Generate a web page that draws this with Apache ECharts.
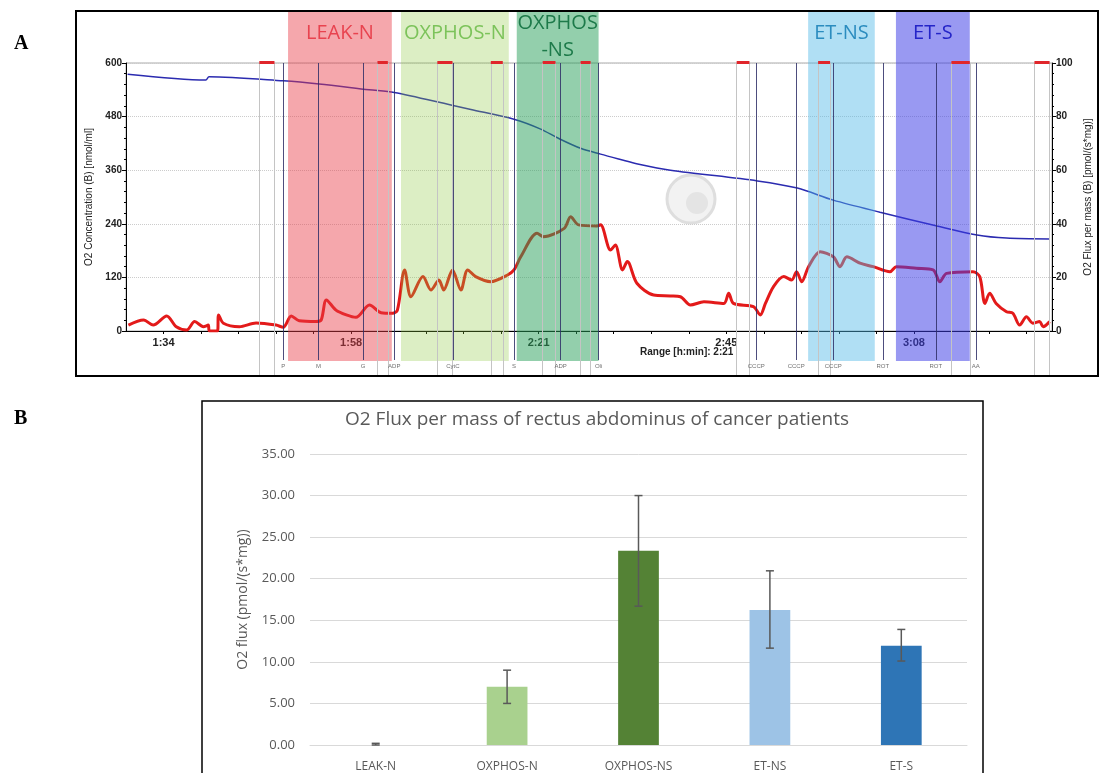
<!DOCTYPE html>
<html>
<head>
<meta charset="utf-8">
<title>O2 flux</title>
<script src="https://cdn.jsdelivr.net/npm/echarts@6/dist/echarts.min.js"></script>
<style>
    html, body { margin: 0; padding: 0; background: #fff; }
    #main { width: 1104px; height: 773px; }
</style>
</head>
<body>
<div id="main"></div>
<script>
// ---- panel A: trace, time in minutes ----
var o2Conc = [
    [89.5, 575], [99.3, 562], [99.7, 569], [109.0, 560], [113.5, 553], [119.75, 540],
    [122.9, 534], [130.0, 506], [132.5, 496], [137.9, 474], [141.25, 452], [143.4, 432],
    [146.25, 409], [148.75, 396], [151.25, 384], [153.4, 374], [157.5, 360], [168.4, 336],
    [173.4, 320], [177.9, 293], [183.75, 266], [190.9, 235], [195.9, 215], [199.6, 208],
    [205.0, 206]
];
var o2Flux = [
    [89.6, 2.2], [91.5, 4.1], [92.7, 2.2], [94.4, 5.6], [95.6, 1.6], [96.9, 0.4],
    [97.9, 3.5], [99.0, 1.6], [99.6, 2.2], [99.75, 0], [100.75, 0], [100.9, 6.0],
    [101.5, 2.9], [103.5, 1.6], [105.6, 3.0], [108.1, 2.2], [109.0, 1.4], [110.0, 5.6],
    [111.0, 3.8], [113.1, 3.5], [113.75, 4.1], [114.4, 11.6], [115.6, 7.8], [116.9, 6.0],
    [118.1, 5.1], [119.8, 9.7], [121.25, 6.8], [122.7, 6.6], [123.3, 7.8], [124.2, 22.8],
    [125.0, 12.8], [126.5, 20.3], [127.5, 15.3], [128.5, 19.0], [129.1, 15.3], [130.2, 22.8],
    [131.25, 15.3], [132.1, 22.8], [133.1, 20.3], [135.0, 18.4], [137.1, 20.9], [137.9, 22.8],
    [138.75, 27.7], [140.8, 36.5], [141.6, 35.2], [144.2, 38.3], [145.0, 42.6], [146.0, 39.6],
    [148.3, 39.2], [148.75, 39.6], [150.0, 30.2], [150.6, 32.1], [151.5, 22.8], [152.1, 25.9],
    [153.3, 17.8], [155.4, 13.4], [157.5, 13.1], [158.75, 12.8], [160.0, 9.7], [161.7, 10.9],
    [164.2, 10.3], [164.8, 14.1], [165.4, 10.3], [167.9, 9.1], [168.75, 6.0], [169.4, 10.3],
    [170.4, 16.5], [171.7, 20.3], [172.7, 19.0], [173.3, 22.1], [173.95, 18.4], [174.8, 24.0],
    [176.25, 29.6], [177.9, 27.7], [178.75, 24.0], [179.6, 27.7], [181.25, 25.3], [182.9, 24.0],
    [185.0, 22.1], [185.8, 24.0], [188.3, 23.4], [190.4, 22.8], [191.25, 18.4], [192.1, 21.5],
    [195.4, 22.1], [196.25, 20.3], [196.9, 10.3], [197.5, 14.1], [198.3, 10.3], [199.6, 7.2],
    [200.4, 6.6], [201.25, 2.2], [202.1, 5.3], [202.9, 2.9], [203.75, 3.5], [204.2, 1.6],
    [205.0, 3.5]
];
var phaseNames = ['LEAK-N', 'OXPHOS-N', 'OXPHOS\n-NS', 'ET-NS', 'ET-S'];
var phaseStart = [109.6, 123.75, 138.25, 174.75, 185.75];
var phaseEnd = [122.6, 137.25, 148.5, 183.1, 195.0];
var eventTimes = [109.0, 113.4, 119.0, 122.9, 130.25, 137.9, 143.75, 148.5, 168.25, 173.25, 177.9, 184.1, 190.75, 195.75];
var eventLabels = ['P', 'M', 'G', 'ADP', 'CytC', 'S', 'ADP', 'Oli', 'CCCP', 'CCCP', 'CCCP', 'ROT', 'ROT', 'AA'];
var markStart = [106.0, 120.8, 128.3, 135.0, 141.5, 146.25, 165.8, 176.0, 192.7, 203.1];
var markEnd = [107.9, 122.1, 130.2, 136.5, 143.1, 147.5, 167.4, 177.5, 195.0, 205.0];

// ---- panel B: summary bars ----
var categories = ['LEAK-N', 'OXPHOS-N', 'OXPHOS-NS', 'ET-NS', 'ET-S'];
var fluxMean = [0, 7.0, 23.35, 16.25, 11.95];
var fluxLow = [0.0, 5.0, 16.7, 11.65, 10.1];
var fluxHigh = [0.2, 9.0, 30.0, 20.95, 13.9];

// styles
var phaseFill = ['rgba(232,60,72,0.45)', 'rgba(140,200,60,0.3)', 'rgba(40,160,90,0.5)', 'rgba(80,185,230,0.45)', 'rgba(60,60,230,0.52)'];
var phaseText = ['#e8434f', '#7cc35a', '#1d7a4a', '#2b8cbf', '#2424c8'];
var barColors = ['#f4b183', '#a9d18e', '#548235', '#9dc3e6', '#2e75b6'];

// overlay grid: y counted in px from frame top
var OV_TOP = 12, OV_H = 365;
var PLOT_TOP = 63 - OV_TOP;

function timeLabel(v) {
    var r = (v - 94) / 23.5;
    if (Math.abs(r - Math.round(r)) > 0.01) return '';
    var m = Math.round(v);
    var mm = m % 60;
    return Math.floor(m / 60) + ':' + (mm < 10 ? '0' : '') + mm;
}

var bands = phaseNames.map(function(n, i) {
    return [{
        name: n,
        coord: [phaseStart[i], 0],
        itemStyle: { color: phaseFill[i] },
        label: { color: phaseText[i], offset: [0, n.indexOf('\n') >= 0 ? -10 : 0] }
    }, { coord: [phaseEnd[i], 349] }];
});
var eventLines = eventTimes.map(function(t, i) {
    return [{ name: eventLabels[i], coord: [t, PLOT_TOP] }, { coord: [t, 348] }];
});
var grayLines = [];
markStart.forEach(function(s, i) {
    grayLines.push([{ coord: [s, PLOT_TOP] }, { coord: [s, 364] }]);
    grayLines.push([{ coord: [markEnd[i], PLOT_TOP] }, { coord: [markEnd[i], 364] }]);
});
var redMarks = markStart.map(function(s, i) {
    return [{ coord: [s, PLOT_TOP - 0.5] }, { coord: [markEnd[i], PLOT_TOP - 0.5] }];
});

var axisFont = { fontFamily: 'Liberation Sans', fontWeight: 'bold', fontSize: 10, color: '#222' };
var gray = '#595959';

var myChart = echarts.init(document.getElementById('main'));
var option = {
    animation: false,
    backgroundColor: '#fff',
    title: {
        text: 'O2 Flux per mass of rectus abdominus of cancer patients',
        left: 592,
        textAlign: 'center',
        top: 405,
        textStyle: { fontFamily: 'Open Sans', fontWeight: 'normal', fontSize: 19, color: gray }
    },
    grid: [
        { left: 126, right: 52, top: 63, bottom: 442, show: true, borderColor: '#aaa', borderWidth: 1 },
        { left: 126, right: 52, top: OV_TOP, height: OV_H },
        { left: 310, right: 137, top: 454, bottom: 28 }
    ],
    xAxis: [{
        type: 'value', gridIndex: 0, min: 89.3, max: 205.3, interval: 4.7,
        axisLine: { lineStyle: { color: '#000', width: 1 } },
        axisTick: { length: 3, lineStyle: { color: '#000' } },
        splitLine: { show: false },
        axisLabel: Object.assign({}, axisFont, { formatter: timeLabel, margin: 6, fontSize: 11, showMinLabel: false, showMaxLabel: false })
    }, {
        type: 'value', gridIndex: 1, min: 89.3, max: 205.3, show: false
    }, {
        type: 'category', gridIndex: 2, data: categories,
        axisLine: { lineStyle: { color: '#d9d9d9', width: 1 } },
        axisTick: { show: false },
        axisLabel: { color: gray, fontFamily: 'Open Sans', fontSize: 12, margin: 16 }
    }],
    yAxis: [{
        type: 'value', gridIndex: 0, min: 0, max: 600, interval: 120,
        name: 'O2 Concentration (B) [nmol/ml]', nameLocation: 'middle', nameGap: 29,
        nameTextStyle: { fontFamily: 'Liberation Sans', fontSize: 10, color: '#222' },
        axisLine: { show: true, lineStyle: { color: '#000' } },
        axisTick: { show: true, length: 4, lineStyle: { color: '#000' } },
        minorTick: { show: true, splitNumber: 5, length: 2, lineStyle: { color: '#000' } },
        splitLine: { show: true, lineStyle: { color: '#ccc', type: 'dotted' } },
        axisLabel: Object.assign({ margin: 4 }, axisFont)
    }, {
        type: 'value', gridIndex: 0, position: 'right', min: 0, max: 100, interval: 20,
        name: 'O2 Flux per mass (B) [pmol/(s*mg)]', nameLocation: 'middle', nameGap: 29, nameRotate: 90,
        nameTextStyle: { fontFamily: 'Liberation Sans', fontSize: 10, color: '#222' },
        axisLine: { show: true, lineStyle: { color: '#000' } },
        axisTick: { show: true, length: 4, lineStyle: { color: '#000' } },
        minorTick: { show: true, splitNumber: 5, length: 2, lineStyle: { color: '#000' } },
        splitLine: { show: false },
        axisLabel: Object.assign({ margin: 4 }, axisFont)
    }, {
        type: 'value', gridIndex: 1, min: 0, max: OV_H, inverse: true, show: false
    }, {
        type: 'value', gridIndex: 2, min: 0, max: 35, interval: 5,
        name: 'O2 flux (pmol/(s*mg))', nameLocation: 'middle', nameGap: 60,
        nameTextStyle: { fontFamily: 'Open Sans', fontSize: 14, color: gray },
        axisLine: { show: false }, axisTick: { show: false },
        splitLine: { lineStyle: { color: '#d9d9d9', width: 1 } },
        axisLabel: { color: gray, fontFamily: 'Open Sans', fontSize: 13, margin: 15, formatter: function(v) { return v.toFixed(2); } }
    }],
    series: [{
        name: 'O2 Concentration', type: 'line', xAxisIndex: 0, yAxisIndex: 0, z: 2,
        data: o2Conc, showSymbol: false, smooth: 0.3,
        lineStyle: { color: '#2b2bb0', width: 1.5 }
    }, {
        name: 'O2 Flux', type: 'line', xAxisIndex: 0, yAxisIndex: 1, z: 2,
        data: o2Flux, showSymbol: false, smooth: 0.3,
        lineStyle: { color: '#e31a1a', width: 3 }
    }, {
        type: 'line', xAxisIndex: 1, yAxisIndex: 2, data: [], z: 3,
        markArea: {
            silent: true, z: 3,
            label: { show: true, position: 'insideTop', distance: 8, fontFamily: 'Open Sans', fontSize: 20, lineHeight: 27 },
            data: bands
        }
    }, {
        type: 'line', xAxisIndex: 1, yAxisIndex: 2, data: [],
        markLine: {
            silent: true, symbol: ['none', 'none'], z: 4,
            lineStyle: { color: '#c4c4c4', width: 1, type: 'solid' },
            label: { show: false },
            data: grayLines
        }
    }, {
        type: 'line', xAxisIndex: 1, yAxisIndex: 2, data: [],
        markLine: {
            silent: true, symbol: ['none', 'none'], z: 5,
            lineStyle: { color: '#2e2e66', width: 1, type: 'solid', opacity: 0.85 },
            label: { show: true, position: 'end', formatter: '{b}', fontSize: 6, color: '#555', fontFamily: 'Liberation Sans', distance: 3 },
            data: eventLines
        }
    }, {
        type: 'line', xAxisIndex: 1, yAxisIndex: 2, data: [],
        markLine: {
            silent: true, symbol: ['none', 'none'], z: 6,
            lineStyle: { color: '#e0262b', width: 3, type: 'solid' },
            label: { show: false },
            data: redMarks
        }
    }, {
        type: 'bar', xAxisIndex: 2, yAxisIndex: 3, barWidth: '31%',
        data: fluxMean.map(function(v, i) { return { value: v, itemStyle: { color: barColors[i] } }; })
    }, {
        type: 'custom', xAxisIndex: 2, yAxisIndex: 3, z: 5,
        data: categories.map(function(c, i) { return [i, fluxLow[i], fluxHigh[i]]; }),
        renderItem: function(params, api) {
            var lo = api.coord([api.value(0), api.value(1)]);
            var hi = api.coord([api.value(0), api.value(2)]);
            var w = 4;
            var st = { stroke: gray, lineWidth: 1.5 };
            return {
                type: 'group',
                children: [
                    { type: 'line', shape: { x1: hi[0], y1: hi[1], x2: lo[0], y2: lo[1] }, style: st },
                    { type: 'line', shape: { x1: hi[0] - w, y1: hi[1], x2: hi[0] + w, y2: hi[1] }, style: st },
                    { type: 'line', shape: { x1: lo[0] - w, y1: lo[1], x2: lo[0] + w, y2: lo[1] }, style: st }
                ]
            };
        }
    }],
    graphic: [
        { type: 'rect', shape: { x: 76, y: 11, width: 1022, height: 365 }, style: { fill: null, stroke: '#000', lineWidth: 2 }, z: 10 },
        { type: 'rect', shape: { x: 202, y: 401, width: 781, height: 380 }, style: { fill: null, stroke: '#000', lineWidth: 1.5 }, z: 10 },
        { type: 'text', left: 14, top: 34, style: { text: 'A', font: 'bold 20px "Liberation Serif"', fill: '#000' } },
        { type: 'text', left: 14, top: 409, style: { text: 'B', font: 'bold 20px "Liberation Serif"', fill: '#000' } },
        { type: 'text', left: 640, top: 347, style: { text: 'Range [h:min]: 2:21', font: 'bold 10px "Liberation Sans"', fill: '#222' } },
        { type: 'circle', shape: { cx: 691, cy: 199, r: 24 }, style: { fill: '#f2f2f2', stroke: '#dedede', lineWidth: 3 }, z: 0 },
        { type: 'circle', shape: { cx: 697, cy: 203, r: 11 }, style: { fill: '#e4e4e4' }, z: 0 }
    ]
};
myChart.setOption(option);
</script>
</body>
</html>
